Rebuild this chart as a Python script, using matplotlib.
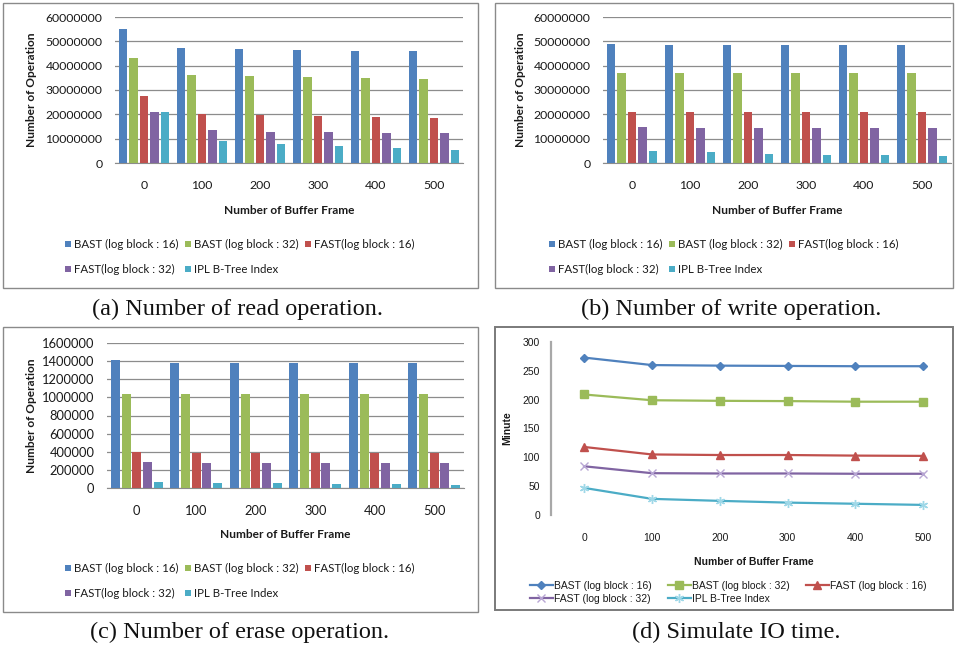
import numpy as np
import matplotlib
matplotlib.use('Agg')
import matplotlib.pyplot as plt
from matplotlib.patches import Rectangle

# buffer frame counts (x categories)
frames = [0, 100, 200, 300, 400, 500]

bar_labels = ['BAST (log block : 16)', 'BAST (log block : 32)', 'FAST(log block : 16)',
              'FAST(log block : 32)', 'IPL B-Tree Index']
line_labels = ['BAST (log block : 16)', 'BAST (log block : 32)', 'FAST (log block : 16)',
               'FAST (log block : 32)', 'IPL B-Tree Index']

# (a) read operations
read_bast16 = [55000000, 47100000, 46700000, 46300000, 46000000, 46000000]
read_bast32 = [43200000, 36200000, 35800000, 35300000, 34900000, 34500000]
read_fast16 = [27700000, 20000000, 19600000, 19200000, 18800000, 18400000]
read_fast32 = [21100000, 13400000, 12900000, 12600000, 12200000, 12200000]
read_ipl = [21100000, 9000000, 7800000, 7000000, 6200000, 5300000]

# (b) write operations
write_bast16 = [48900000, 48500000, 48500000, 48500000, 48500000, 48500000]
write_bast32 = [37100000, 37100000, 37100000, 37100000, 37100000, 37100000]
write_fast16 = [21100000, 20800000, 20800000, 20800000, 20800000, 20800000]
write_fast32 = [14700000, 14300000, 14300000, 14300000, 14300000, 14300000]
write_ipl = [4800000, 4500000, 3700000, 3300000, 3300000, 2900000]

# (c) erase operations
erase_bast16 = [1410000, 1380000, 1380000, 1380000, 1380000, 1380000]
erase_bast32 = [1035000, 1035000, 1035000, 1035000, 1035000, 1035000]
erase_fast16 = [402000, 385000, 385000, 385000, 385000, 385000]
erase_fast32 = [288000, 275000, 275000, 275000, 275000, 275000]
erase_ipl = [66000, 55000, 55000, 44000, 44000, 37000]

# (d) simulated IO time in minutes
time_bast16 = [273, 260, 259, 258.5, 258, 258]
time_bast32 = [209, 199, 198, 197.5, 196.5, 196.5]
time_fast16 = [118, 105, 104, 104, 103, 102.5]
time_fast32 = [84.5, 72.5, 72, 72, 71.5, 71.5]
time_ipl = [47, 28, 24.5, 21.5, 19.5, 17.5]

colors = ['#4F81BD', '#9BBB59', '#C0504D', '#8064A2', '#4BACC6']

W, H = 956, 650
fig = plt.figure(figsize=(W / 100, H / 100), dpi=100)
fig.patch.set_facecolor('white')

bar_font = 'Lato'
txt = '#1a1a1a'


def px_axes(l, t, r, b):
    return fig.add_axes([l / W, 1 - b / H, (r - l) / W, (b - t) / H])


def px_text(x, y, s, **kw):
    fig.text(x / W, 1 - y / H, s, **kw)


def frame(l, t, r, b, lw=1.0, ec='#8a8a8a'):
    fig.patches.append(Rectangle((l / W, 1 - b / H), (r - l) / W, (b - t) / H,
                                 transform=fig.transFigure, fill=False, ec=ec, lw=lw))


def bar_panel(plot, series, ymax, ystep, ylab_x, xlab_y, leg_xy, tick_size=8.8):
    ax = px_axes(*plot)
    x = np.arange(len(frames))
    step, width = 0.18, 0.15
    handles = []
    for i, vals in enumerate(series):
        handles.append(ax.bar(x + (i - 2) * step, vals, width, color=colors[i], zorder=3))
    ax.set_xlim(-0.5, len(frames) - 0.5)
    ax.set_ylim(0, ymax)
    ax.set_yticks(np.arange(0, ymax + 1, ystep))
    ax.yaxis.set_major_formatter(lambda v, p: f'{v:.0f}')
    ax.set_xticks(x, [str(f) for f in frames])
    ax.grid(axis='y', color='#8c8c8c', lw=0.9, zorder=0)
    for s in ['left', 'right', 'top']:
        ax.spines[s].set_visible(False)
    ax.spines['bottom'].set_color('#8c8c8c')
    ax.tick_params(axis='y', length=0, pad=9, labelsize=tick_size, labelcolor=txt)
    ax.tick_params(axis='x', length=0, pad=12, labelsize=tick_size, labelcolor=txt)
    for lab in ax.get_xticklabels() + ax.get_yticklabels():
        lab.set_fontfamily(bar_font)
    l, t, r, b = plot
    px_text(ylab_x, (t + b) / 2, 'Number of Operation', rotation=90, ha='center', va='center',
            fontsize=8.6, fontweight='bold', family=bar_font, color=txt)
    px_text((l + r) / 2, xlab_y, 'Number of Buffer Frame', ha='center', va='center',
            fontsize=8.6, fontweight='bold', family=bar_font, color=txt)
    order = [0, 3, 1, 4, 2]
    fig.legend([handles[k] for k in order], [bar_labels[k] for k in order], ncol=3,
               loc='upper left', bbox_to_anchor=(leg_xy[0] / W, 1 - leg_xy[1] / H),
               frameon=False, borderpad=0, borderaxespad=0,
               prop={'family': bar_font, 'size': 8.3},
               handlelength=0.5, handleheight=0.5, handletextpad=0.3,
               columnspacing=0.55, labelspacing=1.2, labelcolor=txt)
    return ax


# panel frames
frame(3, 3, 478, 288)
frame(495, 3, 953, 288)
frame(3, 327, 478, 612)
frame(495, 327, 953, 610, lw=1.4, ec='#7a7a7a')

bar_panel((115, 17, 463, 163),
          [read_bast16, read_bast32, read_fast16, read_fast32, read_ipl],
          60000000, 10000000, 32, 211, (65, 239))
bar_panel((603, 17, 951, 163),
          [write_bast16, write_bast32, write_fast16, write_fast32, write_ipl],
          60000000, 10000000, 520, 211, (549, 239))
bar_panel((107, 343, 464, 488),
          [erase_bast16, erase_bast32, erase_fast16, erase_fast32, erase_ipl],
          1600000, 200000, 32, 535, (65, 563), tick_size=9.3)

# (d) line chart
line_font = 'Liberation Sans'
axd = px_axes(551, 342, 945, 515)
xd = np.arange(len(frames))
styles = [
    dict(marker='D', ms=4.2, mfc=colors[0], mec=colors[0]),
    dict(marker='s', ms=5.8, mfc=colors[1], mec=colors[1]),
    dict(marker='^', ms=6.0, mfc=colors[2], mec=colors[2]),
    dict(marker='x', ms=6.0, mew=1.0, mfc='none', mec='#b8a6d4'),
    dict(marker=(6, 2, 0), ms=6.5, mew=1.0, mfc='none', mec='#9fd8e8'),
]
line_handles = []
for i, vals in enumerate([time_bast16, time_bast32, time_fast16, time_fast32, time_ipl]):
    h, = axd.plot(xd, vals, color=colors[i], lw=1.6, **styles[i])
    line_handles.append(h)
axd.set_xlim(-0.487, 5.32)
axd.set_ylim(0, 300)
axd.set_yticks(range(0, 301, 50))
axd.set_xticks(xd, [str(f) for f in frames])
for s in ['right', 'top', 'bottom']:
    axd.spines[s].set_visible(False)
axd.spines['left'].set_color('#a8a8a8')
axd.spines['left'].set_linewidth(1.6)
axd.tick_params(axis='y', length=0, pad=8, labelsize=7.5, labelcolor=txt)
axd.tick_params(axis='x', length=0, pad=13, labelsize=7.5, labelcolor=txt)
for lab in axd.get_xticklabels() + axd.get_yticklabels():
    lab.set_fontfamily(line_font)
px_text(507, 428, 'Minute', rotation=90, ha='center', va='center',
        fontsize=7.5, fontweight='bold', family=line_font, color=txt)
px_text(754, 562, 'Number of Buffer Frame', ha='center', va='center',
        fontsize=7.5, fontweight='bold', family=line_font, color=txt)
order = [0, 3, 1, 4, 2]
fig.legend([line_handles[k] for k in order], [line_labels[k] for k in order], ncol=3,
           loc='upper left', bbox_to_anchor=(530 / W, 1 - 581 / H),
           frameon=False, borderpad=0, borderaxespad=0,
           prop={'family': line_font, 'size': 7.5},
           handlelength=2.2, handletextpad=0.15, columnspacing=1.5,
           labelspacing=0.3, labelcolor=txt)

# captions
cap = dict(ha='center', va='center', fontsize=17.5, family='Liberation Serif', color='#111111')
px_text(237, 309, '(a) Number of read operation.', **cap)
px_text(731, 309, '(b) Number of write operation.', **cap)
px_text(240, 632, '(c) Number of erase operation.', **cap)
px_text(736, 632, '(d) Simulate IO time.', **cap)

fig.savefig('out.png', dpi=100)
